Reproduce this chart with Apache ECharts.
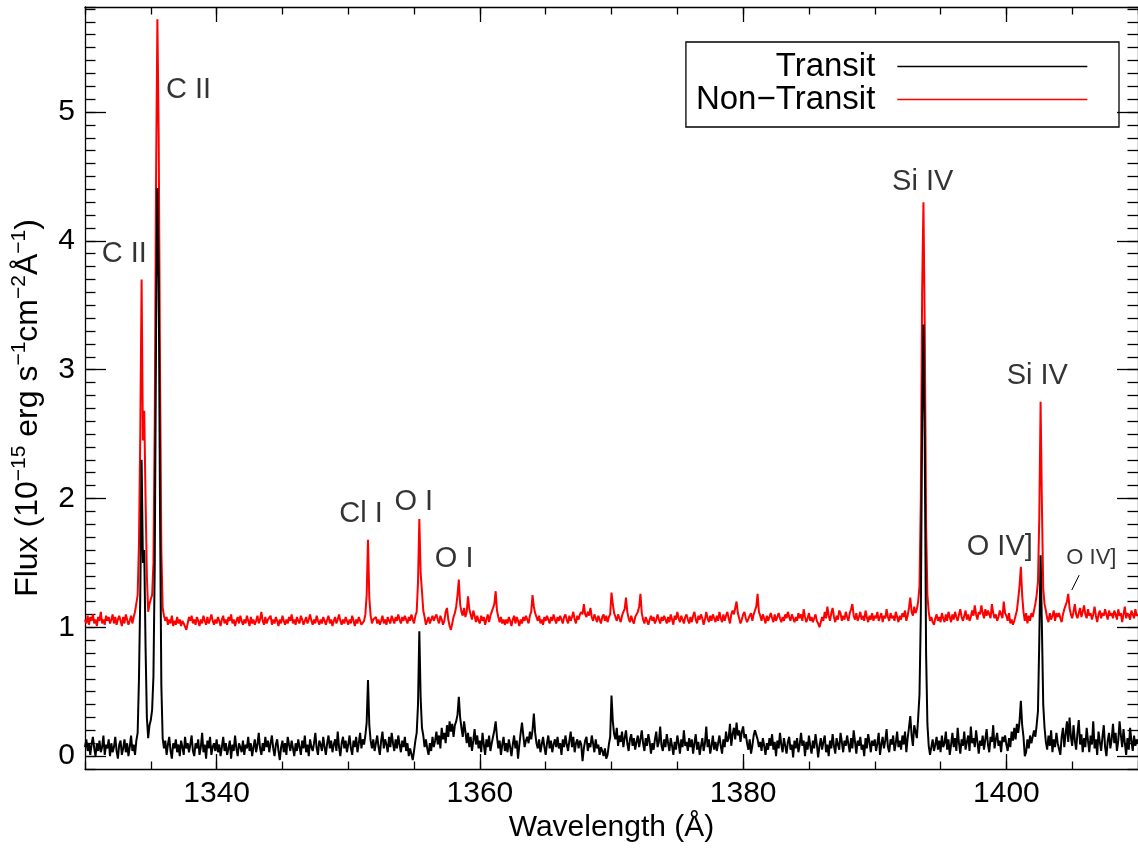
<!DOCTYPE html>
<html>
<head>
<meta charset="utf-8">
<title>Transit / Non-Transit FUV spectrum</title>
<script src="https://cdn.jsdelivr.net/npm/echarts@6.0.0/dist/echarts.min.js"></script>
<style>
  html, body { margin: 0; padding: 0; background: #fff; }
  #chart { width: 1138px; height: 848px; }
</style>
</head>
<body>
<div id="chart"></div>
<script>
// Spectrum sampling: 0.1 Å pixels from 1330.0 Å to 1410.0 Å
const WAVE_START = 1330.0;
const WAVE_STEP = 0.1;

// Flux in 10^-15 erg s^-1 cm^-2 Å^-1, one row per 2 Å
const TRANSIT = [
  0.07,0.13,0.04,0.10,0.01,0.09,0.15,0.06,0.00,0.10,0.04,0.12,0.03,0.07,0.16,0.01,0.09,0.06,0.13,0.00,
  0.10,0.03,0.07,0.15,0.04,-0.02,0.09,0.12,0.01,0.06,0.13,0.03,0.10,0.00,0.07,0.16,0.04,0.09,0.01,0.12,
  0.18,0.60,1.25,2.30,1.50,1.60,0.85,0.30,0.14,0.24,0.28,0.36,0.62,1.50,3.30,4.41,3.70,1.90,0.55,0.14,
  0.06,0.12,0.01,0.09,0.15,0.04,-0.02,0.10,0.06,0.13,0.03,0.09,0.00,0.12,0.07,0.01,0.15,0.06,0.10,0.03,
  0.09,0.16,0.04,0.00,0.10,0.06,0.13,0.01,0.07,0.18,0.03,0.09,-0.02,0.12,0.06,0.15,0.01,0.07,0.10,0.04,
  0.13,0.03,0.09,0.00,0.07,0.15,0.04,0.10,0.01,0.06,0.12,-0.02,0.09,0.04,0.16,0.06,0.00,0.10,0.07,0.03,
  0.12,0.01,0.09,0.06,0.15,0.04,0.10,0.00,0.07,0.13,0.03,0.09,0.18,0.06,0.01,0.10,0.04,0.15,0.07,0.12,
  0.03,0.10,0.16,0.06,0.00,0.09,0.13,0.04,-0.03,0.07,0.12,0.03,0.10,0.01,0.15,0.09,0.04,0.12,0.06,0.00,
  0.10,0.04,0.13,0.07,0.01,0.12,0.06,0.16,0.03,0.09,0.00,0.13,0.07,0.04,0.10,0.18,0.06,0.01,0.12,0.09,
  0.04,0.15,0.07,0.01,0.10,0.16,0.06,0.12,0.03,0.09,0.13,0.04,0.19,0.07,0.00,0.10,0.15,0.06,0.12,0.03,
  0.09,0.16,0.06,0.01,0.12,0.07,0.15,0.03,0.10,0.18,0.06,0.13,0.09,0.16,0.26,0.59,0.24,0.12,0.06,0.13,
  0.04,0.10,0.16,0.07,0.01,0.12,0.19,0.06,0.13,0.09,0.03,0.15,0.07,0.18,0.10,0.04,0.13,0.06,0.16,0.09,
  0.03,0.12,0.07,0.15,0.04,0.10,0.00,0.06,0.05,-0.03,0.04,0.12,0.18,0.40,0.97,0.45,0.22,0.16,0.07,0.13,
  0.06,0.01,0.10,0.04,0.15,0.07,0.12,0.19,0.09,0.16,0.06,0.22,0.13,0.18,0.10,0.24,0.15,0.27,0.19,0.25,
  0.15,0.24,0.27,0.32,0.46,0.30,0.22,0.15,0.27,0.19,0.10,0.18,0.07,0.15,0.04,0.12,0.21,0.09,0.16,0.06,
  0.12,0.03,0.18,0.09,0.01,0.13,0.07,0.16,0.04,0.10,0.15,0.20,0.27,0.15,0.06,0.12,0.01,0.09,0.15,0.04,
  0.10,0.03,0.13,0.07,0.00,0.09,0.16,0.06,0.12,-0.02,0.09,0.18,0.26,0.16,0.07,0.12,0.15,0.10,0.19,0.13,
  0.20,0.33,0.18,0.10,0.06,0.13,0.03,0.09,0.15,0.07,0.01,0.10,0.16,0.06,0.12,0.03,0.09,0.13,0.07,0.15,
  0.06,0.10,0.01,0.13,0.07,0.16,0.09,0.04,0.12,0.19,0.07,0.15,0.03,0.10,0.13,0.06,0.12,0.09,-0.04,0.06,
  0.12,0.15,0.04,0.10,0.07,0.16,0.10,0.03,0.13,0.06,0.09,0.01,0.07,0.04,0.00,0.06,-0.02,0.01,0.09,0.15,
  0.47,0.27,0.17,0.13,0.22,0.08,0.16,0.11,0.19,0.07,0.14,0.20,0.10,0.04,0.13,0.17,0.08,0.14,0.05,0.11,
  0.16,0.07,0.13,0.20,0.10,0.04,0.14,0.08,0.17,0.11,0.02,0.10,0.05,0.13,0.19,0.07,0.11,0.23,0.08,0.04,
  0.13,0.07,0.17,0.10,0.04,0.14,0.08,0.01,0.11,0.05,0.16,0.10,0.02,0.13,0.07,0.20,0.08,0.11,0.04,0.14,
  0.07,0.13,0.02,0.10,0.17,0.05,0.11,0.01,0.08,0.14,0.04,0.10,0.23,0.07,0.13,0.02,0.08,0.16,0.05,0.11,
  0.04,0.10,0.16,0.08,0.02,0.13,0.07,0.19,0.11,0.14,0.25,0.08,0.17,0.22,0.13,0.26,0.16,0.20,0.11,0.19,
  0.23,0.14,0.17,0.10,0.05,0.13,0.02,0.08,0.16,0.20,0.19,0.13,0.07,0.11,0.04,0.14,0.08,0.01,0.10,0.05,
  0.14,0.08,0.17,0.05,0.11,0.00,0.12,0.06,0.18,0.09,0.03,0.14,0.08,0.02,0.11,0.15,0.05,0.09,-0.01,0.12,
  0.06,0.14,0.03,0.09,0.18,0.08,0.12,0.00,0.11,0.05,0.16,0.08,0.02,0.12,0.06,0.17,0.09,-0.01,0.08,0.14,
  0.05,0.11,0.16,0.03,0.09,0.00,0.12,0.06,0.17,0.08,0.02,0.14,0.09,0.05,0.18,0.11,0.03,0.12,0.08,0.16,
  0.09,0.03,0.14,0.06,0.20,0.11,0.02,0.12,0.08,0.15,0.05,0.09,0.00,0.14,0.06,0.17,0.11,0.03,0.12,0.08,
  0.13,0.04,0.10,0.18,0.01,0.09,0.15,0.06,0.12,0.21,0.07,0.03,0.13,0.09,0.16,0.04,0.10,0.19,0.07,0.12,
  0.05,0.16,0.09,0.19,0.03,0.14,0.22,0.31,0.16,0.08,0.24,0.19,0.14,0.30,0.48,1.10,2.60,3.35,2.40,0.80,
  0.25,0.08,0.01,0.07,0.13,0.04,0.09,0.15,0.05,0.12,0.03,0.16,0.07,0.10,0.19,0.05,0.13,0.01,0.09,0.18,
  0.07,0.14,0.04,0.22,0.10,0.02,0.13,0.08,0.19,0.05,0.11,0.16,0.04,0.23,0.10,0.14,0.07,0.20,0.11,0.02,
  0.12,0.08,0.16,0.05,0.13,0.21,0.09,0.03,0.15,0.11,0.24,0.06,0.13,0.18,0.08,0.12,0.03,0.15,0.11,0.16,
  0.09,0.04,0.14,0.07,0.19,0.12,0.22,0.13,0.25,0.18,0.27,0.43,0.24,0.15,0.00,0.03,0.13,0.06,0.16,0.10,
  0.11,0.20,0.15,0.24,0.35,0.90,1.56,1.00,0.40,0.22,0.11,0.05,0.16,0.08,0.20,0.03,0.13,0.07,0.18,0.10,
  0.10,0.01,0.15,0.22,0.07,0.17,0.27,0.11,0.30,0.15,0.08,0.24,0.12,0.05,0.18,0.28,0.09,0.17,0.03,0.14,
  0.07,0.22,0.12,0.03,0.16,0.09,0.27,0.06,0.13,0.01,0.19,0.11,0.04,0.15,0.24,0.07,0.00,0.12,0.18,0.06,
  0.13,0.25,0.10,0.18,0.04,0.12,0.27,0.16,0.07,0.21,0.10,0.01,0.14,0.05,0.22,0.12,0.04,0.16,0.08,0.13,
  0.10
];

const NON_TRANSIT = [
  1.06,1.03,1.09,1.02,1.08,1.05,1.10,1.03,1.06,1.01,1.08,1.05,1.12,1.03,1.06,1.02,1.09,1.05,1.08,1.03,
  1.06,1.10,1.03,1.08,1.02,1.06,1.09,1.05,1.01,1.08,1.03,1.10,1.06,1.02,1.05,1.09,1.03,1.08,1.12,1.13,
  1.25,1.65,2.50,3.70,2.45,2.68,2.00,1.40,1.12,1.18,1.22,1.25,1.50,2.60,4.50,5.72,4.80,3.00,1.60,1.15,
  1.09,1.05,1.08,1.02,1.06,1.03,1.09,1.01,1.05,1.02,1.08,1.03,1.06,1.01,1.05,1.03,1.02,0.98,1.03,1.08,
  1.05,1.09,1.03,1.06,1.02,1.08,1.05,1.01,1.06,1.03,1.09,1.05,1.02,1.08,1.03,1.06,1.10,1.05,1.02,1.06,
  1.03,1.08,1.05,1.01,1.06,1.09,1.03,1.06,1.02,1.08,1.05,1.10,1.03,1.06,1.01,1.05,1.08,1.03,1.09,1.05,
  1.02,1.06,1.03,1.09,1.05,1.01,1.08,1.03,1.06,1.02,1.05,1.09,1.03,1.06,1.12,1.05,1.02,1.08,1.03,1.06,
  1.05,1.09,1.02,1.06,1.03,1.08,1.05,1.01,1.06,1.03,1.09,1.05,1.02,1.06,1.03,1.08,1.05,1.10,1.03,1.06,
  1.02,1.08,1.05,1.03,1.09,1.06,1.02,1.05,1.08,1.03,1.06,1.10,1.05,1.02,1.06,1.03,1.09,1.05,1.02,1.06,
  1.03,1.08,1.05,1.02,1.06,1.09,1.03,1.06,1.01,1.05,1.08,1.03,1.06,1.10,1.05,1.02,1.06,1.03,1.08,1.05,
  1.02,1.06,1.03,1.09,1.05,1.01,1.06,1.03,1.08,1.05,1.02,1.01,1.05,1.10,1.25,1.68,1.23,1.09,1.03,1.06,
  1.05,1.08,1.03,1.06,1.02,1.05,1.09,1.03,1.06,1.02,1.08,1.05,1.03,1.09,1.06,1.03,1.08,1.05,1.10,1.06,
  1.03,1.08,1.05,1.09,1.06,1.03,1.08,1.05,1.10,1.06,1.03,1.09,1.12,1.35,1.84,1.42,1.28,1.13,1.08,1.02,
  1.05,1.08,1.03,1.06,1.09,1.05,1.08,1.10,1.06,1.03,1.09,1.06,1.02,1.05,1.12,1.15,1.06,1.01,0.98,1.03,
  1.08,1.11,1.16,1.25,1.37,1.18,1.12,1.09,1.15,1.08,1.12,1.24,1.14,1.10,1.06,1.13,1.09,1.04,1.09,1.05,
  1.03,1.09,1.05,1.08,1.02,1.06,1.10,1.04,1.09,1.12,1.15,1.18,1.28,1.13,1.08,1.04,1.08,1.03,1.06,1.02,
  1.06,1.03,1.08,1.05,1.01,1.06,1.09,1.03,1.08,1.05,1.01,1.06,1.03,1.08,1.05,1.09,1.06,1.03,1.09,1.12,
  1.25,1.16,1.11,1.08,1.05,1.09,1.03,1.06,1.02,1.08,1.05,1.09,1.06,1.03,1.08,1.05,1.10,1.06,1.03,1.08,
  1.05,1.09,1.06,1.03,1.08,1.10,1.06,1.03,1.09,1.05,1.08,1.12,1.06,1.03,1.09,1.06,1.10,1.12,1.10,1.18,
  1.10,1.08,1.12,1.09,1.15,1.08,1.05,1.10,1.07,1.04,1.09,1.06,1.03,1.08,1.10,1.05,1.09,1.04,1.08,1.10,
  1.27,1.18,1.11,1.08,1.05,1.10,1.07,1.04,1.09,1.12,1.14,1.23,1.12,1.07,1.04,1.09,1.05,1.03,1.08,1.10,
  1.12,1.16,1.26,1.11,1.06,1.03,1.08,1.05,1.02,1.06,1.09,1.05,1.08,1.03,1.06,1.10,1.06,1.03,1.08,1.05,
  1.09,1.06,1.03,1.08,1.04,1.10,1.06,1.02,1.09,1.06,1.12,1.07,1.04,1.09,1.06,1.03,1.08,1.10,1.06,1.03,
  1.08,1.04,1.09,1.12,1.06,1.03,1.09,1.06,1.10,1.07,1.02,1.06,1.12,1.07,1.04,1.09,1.05,1.10,1.07,1.04,
  1.09,1.05,1.12,1.07,1.04,1.10,1.05,1.09,1.12,1.07,1.03,1.10,1.13,1.10,1.15,1.20,1.11,1.07,1.03,1.06,
  1.10,1.12,1.07,1.04,1.03,1.09,1.11,1.05,1.10,1.13,1.16,1.26,1.12,1.09,1.05,1.10,1.07,1.03,1.09,1.05,
  1.08,1.11,1.07,1.04,1.10,1.05,1.08,1.11,1.07,1.04,1.08,1.05,1.10,1.07,1.12,1.08,1.05,1.10,1.07,1.04,
  1.08,1.05,1.11,1.07,1.10,1.05,1.14,1.08,1.04,1.07,1.11,1.05,1.08,1.04,1.07,1.10,1.05,1.03,1.00,1.04,
  1.08,1.05,1.12,1.07,1.16,1.09,1.05,1.11,1.15,1.08,1.04,1.09,1.06,1.13,1.11,1.05,1.09,1.06,1.12,1.08,
  1.05,1.11,1.14,1.18,1.09,1.06,1.11,1.05,1.08,1.12,1.06,1.09,1.05,1.13,1.08,1.04,1.09,1.06,1.11,1.05,
  1.09,1.07,1.12,1.05,1.08,1.11,1.04,1.09,1.07,1.14,1.08,1.05,1.11,1.07,1.09,1.05,1.12,1.08,1.04,1.09,
  1.06,1.11,1.08,1.13,1.05,1.09,1.15,1.23,1.12,1.09,1.16,1.11,1.14,1.20,1.32,2.00,3.60,4.30,3.30,1.80,
  1.25,1.12,1.05,1.08,1.04,1.02,1.07,1.10,1.05,1.08,1.04,1.11,1.07,1.04,1.10,1.05,1.12,1.08,1.04,1.10,
  1.06,1.12,1.08,1.05,1.10,1.14,1.08,1.05,1.09,1.13,1.06,1.10,1.05,1.08,1.13,1.09,1.17,1.10,1.06,1.12,
  1.10,1.17,1.11,1.07,1.14,1.09,1.13,1.10,1.07,1.18,1.11,1.07,1.10,1.05,1.08,1.13,1.10,1.07,1.20,1.11,
  1.09,1.05,1.11,1.03,1.06,1.02,1.05,1.09,1.13,1.22,1.32,1.47,1.25,1.12,1.05,1.11,1.03,1.09,1.05,1.11,
  1.08,1.13,1.18,1.25,1.35,1.85,2.75,1.95,1.30,1.18,1.13,1.07,1.04,1.11,1.06,1.09,1.13,1.05,1.11,1.08,
  1.11,1.07,1.04,1.10,1.14,1.17,1.20,1.26,1.15,1.10,1.07,1.12,1.18,1.10,1.07,1.11,1.15,1.08,1.12,1.17,
  1.10,1.07,1.14,1.09,1.11,1.06,1.10,1.16,1.09,1.04,1.10,1.13,1.07,1.11,1.09,1.14,1.10,1.06,1.13,1.09,
  1.11,1.07,1.13,1.10,1.06,1.14,1.09,1.11,1.04,1.10,1.16,1.07,1.11,1.09,1.06,1.13,1.10,1.07,1.14,1.09,
  1.10
];

// Emission line identifications (label centre in Å and flux units)
const LINE_IDS = ['C II', 'C II', 'Cl I', 'O I', 'O I', 'Si IV', 'Si IV', 'O IV]', 'O IV]'];
const LINE_ID_WAVE = [1332.98, 1337.86, 1350.97, 1354.98, 1358.05, 1393.64, 1402.35, 1399.5, 1406.46];
const LINE_ID_FLUX = [3.90, 5.17, 1.876, 1.973, 1.527, 4.457, 2.95, 1.62, 1.54];
const LINE_ID_SIZE = [29, 29, 29, 29, 29, 29, 29, 29, 22];

// Leader line from the small O IV] label down to its feature
const OIV_POINTER_WAVE = [1405.53, 1404.97];
const OIV_POINTER_FLUX = [1.405, 1.289];

// Axis ranges and tick marks
const X_MIN = 1330, X_MAX = 1410;
const Y_MIN = -0.1, Y_MAX = 5.815;
const X_MAJOR_TICKS = [1340, 1360, 1380, 1400];
const X_MINOR_STEP = 5;
const Y_MAJOR_TICKS = [0, 1, 2, 3, 4, 5];
const Y_MINOR_STEP = 0.1;

const FONT = '"Liberation Sans", Arial, Helvetica, sans-serif';

const WAVELENGTH = TRANSIT.map((_, i) => +(WAVE_START + i * WAVE_STEP).toFixed(1));

const chart = echarts.init(document.getElementById('chart'));

const axisLine = { color: '#000', width: 1.3 };

function xAxisDef(position, major) {
  const labelled = major && position === 'bottom';
  return {
    type: 'value', min: X_MIN, max: X_MAX, position: position,
    interval: major ? undefined : X_MINOR_STEP,
    axisLine: { show: major, onZero: false, lineStyle: axisLine },
    axisTick: major
      ? { show: true, inside: true, length: 15, customValues: X_MAJOR_TICKS, lineStyle: axisLine }
      : { show: true, inside: true, length: 7.5, lineStyle: axisLine },
    axisLabel: labelled
      ? { show: true, customValues: X_MAJOR_TICKS, formatter: v => String(v),
          fontSize: 30, color: '#000', fontFamily: FONT, margin: 10 }
      : { show: false },
    splitLine: { show: false },
    name: labelled ? 'Wavelength (Å)' : '',
    nameLocation: 'middle', nameGap: 44, nameMoveOverlap: false,
    nameTextStyle: { fontSize: 30, color: '#000', fontFamily: FONT }
  };
}

function yAxisDef(position, major) {
  const labelled = major && position === 'left';
  return {
    type: 'value', min: Y_MIN, max: Y_MAX, position: position,
    interval: major ? undefined : Y_MINOR_STEP,
    axisLine: { show: major, onZero: false, lineStyle: axisLine },
    axisTick: major
      ? { show: true, inside: true, length: 21, customValues: Y_MAJOR_TICKS, lineStyle: axisLine }
      : { show: true, inside: true, length: 10.5, lineStyle: axisLine },
    axisLabel: labelled
      ? { show: true, customValues: Y_MAJOR_TICKS, formatter: v => String(v),
          fontSize: 30, color: '#000', fontFamily: FONT, margin: 10 }
      : { show: false },
    splitLine: { show: false }
  };
}

const option = {
  animation: false,
  backgroundColor: '#fff',
  grid: { left: 85, top: 7, width: 1056, height: 763, containLabel: false },
  xAxis: [xAxisDef('bottom', true), xAxisDef('bottom', false), xAxisDef('top', true), xAxisDef('top', false)],
  yAxis: [yAxisDef('left', true), yAxisDef('left', false), yAxisDef('right', true), yAxisDef('right', false)],
  legend: {
    data: ['Transit', 'Non−Transit'],
    orient: 'vertical', align: 'right',
    right: 19, top: 42,
    padding: [8, 31, 11, 10],
    itemWidth: 190, itemHeight: 14, itemGap: 0,
    borderColor: '#000', borderWidth: 1.3, borderRadius: 0,
    selectedMode: false,
    itemStyle: { opacity: 0 },
    lineStyle: { width: 1.3 },
    textStyle: { fontSize: 33, color: '#000', fontFamily: FONT, lineHeight: 32, padding: [0, 17, 0, 0] }
  },
  graphic: [{
    type: 'text', x: 28, y: 408, rotation: Math.PI / 2,
    style: {
      text: 'Flux (10{sup|−15} erg s{sup|−1}cm{sup|−2}Å{sup|−1})',
      fontSize: 32, fontFamily: FONT, fill: '#000', lineHeight: 38,
      align: 'center', verticalAlign: 'middle',
      rich: { sup: { fontSize: 21, lineHeight: 21, fontFamily: FONT, fill: '#000', verticalAlign: 'top' } }
    }
  }],
  series: [
    {
      name: 'Non−Transit', type: 'line', xAxisIndex: 0, yAxisIndex: 0,
      symbol: 'none', sampling: null, silent: true,
      itemStyle: { color: '#ff0000' },
      lineStyle: { color: '#ff0000', width: 2 },
      data: WAVELENGTH.map((w, i) => [w, NON_TRANSIT[i]]),
      z: 2
    },
    {
      name: 'Transit', type: 'line', xAxisIndex: 0, yAxisIndex: 0,
      symbol: 'none', sampling: null, silent: true,
      itemStyle: { color: '#000' },
      lineStyle: { color: '#000', width: 2 },
      data: WAVELENGTH.map((w, i) => [w, TRANSIT[i]]),
      z: 3
    },
    {
      name: 'lineIds', type: 'scatter', xAxisIndex: 0, yAxisIndex: 0,
      symbolSize: 0, silent: true,
      label: { show: true, position: 'inside', formatter: '{b}', color: '#000', fontFamily: FONT, fontSize: 29 },
      data: LINE_IDS.map((name, i) => ({
        name: name,
        value: [LINE_ID_WAVE[i], LINE_ID_FLUX[i]],
        label: { fontSize: LINE_ID_SIZE[i] }
      })),
      z: 4
    },
    {
      name: 'oivPointer', type: 'line', xAxisIndex: 0, yAxisIndex: 0,
      symbol: 'none', silent: true,
      lineStyle: { color: '#000', width: 1 },
      data: OIV_POINTER_WAVE.map((w, i) => [w, OIV_POINTER_FLUX[i]]),
      z: 4
    }
  ]
};

chart.setOption(option);
</script>
</body>
</html>
